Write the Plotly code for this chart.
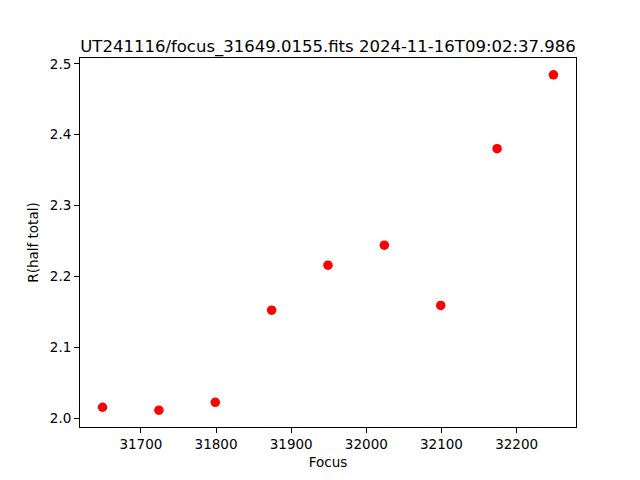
import plotly.graph_objects as go

focus = [31649, 31724, 31799, 31874, 31949, 32024, 32099, 32174, 32249]
r_half = [2.0155, 2.0113, 2.0225, 2.1525, 2.2159, 2.2441, 2.1592, 2.3803, 2.4845]
title = "UT241116/focus_31649.0155.fits 2024-11-16T09:02:37.986"
xticks = [31700, 31800, 31900, 32000, 32100, 32200]
yticks = [2.0, 2.1, 2.2, 2.3, 2.4, 2.5]

xr = max(focus) - min(focus)
yr = max(r_half) - min(r_half)

fig = go.Figure(go.Scatter(
    x=focus, y=r_half, mode="markers",
    marker=dict(color="red", size=9.5, line=dict(width=0)),
))

axis_common = dict(
    showgrid=False, zeroline=False, showline=True, mirror=True,
    linecolor="black", linewidth=1, ticks="outside", ticklen=5,
    tickwidth=1, tickcolor="black",
    tickfont=dict(family="DejaVu Sans", size=13.5, color="black"),
)

# page body has an 8px default margin; compensate so the axes land where they should
fig.update_layout(
    width=640, height=480,
    margin=dict(l=72, r=72, t=49.6, b=60.8, pad=0),
    paper_bgcolor="white", plot_bgcolor="white",
    showlegend=False,
    font=dict(family="DejaVu Sans", color="black"),
    title=dict(text=title, x=0.5, xref="paper", xanchor="center",
               y=1, yref="paper", yanchor="bottom", pad=dict(b=6),
               font=dict(family="DejaVu Sans", size=16.5, color="black")),
    xaxis=dict(range=[min(focus) - 0.05 * xr, max(focus) + 0.05 * xr],
               tickvals=xticks, ticktext=[str(v) for v in xticks],
               title=dict(text="Focus", standoff=6,
                          font=dict(family="DejaVu Sans", size=13.5)),
               **axis_common),
    yaxis=dict(range=[min(r_half) - 0.05 * yr, max(r_half) + 0.05 * yr],
               tickvals=yticks, ticktext=[f"{v:.1f}" for v in yticks],
               title=dict(text="R(half total)", standoff=8,
                          font=dict(family="DejaVu Sans", size=13.5)),
               **axis_common),
)

fig.write_html("out.html")
